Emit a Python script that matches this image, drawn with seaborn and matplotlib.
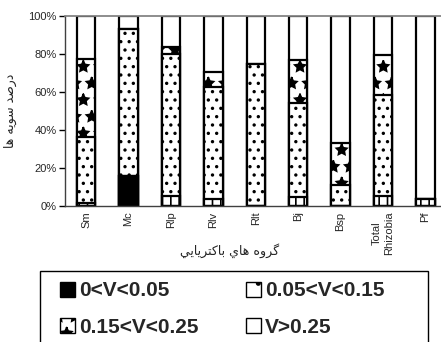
import matplotlib
matplotlib.use("Agg")
import matplotlib.pyplot as plt
import matplotlib.patches as mpatches
import seaborn as sns
import numpy as np
import pandas as pd

sns.set_theme(style="white")
plt.rcParams['font.family'] = ['Liberation Sans', 'DejaVu Sans']
plt.rcParams['hatch.linewidth'] = 1.2

categories = ['Sm', 'Mc', 'Rlp', 'Rlv', 'Rlt', 'Bj', 'Bsp', 'Total\nRhizobia', 'Pf']
v_black   = [0, 16, 0, 0, 0, 0, 0, 0, 0]            # 0<V<0.05
v_base    = [1.5, 0, 5.4, 3.8, 0, 4.9, 0, 5.3, 3.5]
v_dotted  = [34.6, 77, 74.4, 58.7, 74.7, 49.1, 11, 53.1, 0]   # 0.05<V<0.15
v_diamond = [41.1, 0, 4.1, 8.2, 0, 22.8, 22, 21.1, 0]      # 0.15<V<0.25
legend_labels = ['0<V<0.05', '0.05<V<0.15', '0.15<V<0.25', 'V>0.25']
ylabel = "\uFE8E\uFEEB \uFEEA\uFEF3\uFEEE\uFEB3 \uFEAA\uFEBB\uFEAD\uFEA9"
xlabel = ("\uFEF2\uFEF3\uFE8E\uFEF3\uFEAE\uFE98\uFEDB\uFE8E\uFE91 "
          "\uFEF1\uFE8E\uFEEB \uFEE9\uFEED\uFEAE\uFB94")

fig = plt.figure(figsize=(4.41, 3.42), dpi=100)
ax = fig.add_axes([65/441, (342-206)/342, (446.6-65)/441, 190/342])

b = np.array(v_black, float)
c1 = b + np.array(v_base)
c2 = c1 + np.array(v_dotted)
c3 = c2 + np.array(v_diamond)
c4 = np.full(len(categories), 100.0)

layers = [(c4, '', 'white'), (c3, '*', 'white'), (c2, '..', 'white'),
          (c1, '||', 'white'), (b, '', 'black')]
for vals, hatch, fc in layers:
    n0 = len(ax.patches)
    sns.barplot(x=categories, y=vals, ax=ax, color=fc, width=0.43,
                edgecolor='black', linewidth=1.6, saturation=1)
    for p in ax.patches[n0:]:
        p.set_hatch(hatch)
        p.set_facecolor(fc)

ax.set_ylim(0, 100)
ax.set_xlim(-0.5, 8.5)
ax.set_yticks([0, 20, 40, 60, 80, 100])
ax.set_yticklabels(['0%', '20%', '40%', '60%', '80%', '100%'], fontsize=8)
ax.set_xticks(range(len(categories)))
ax.set_xticklabels(categories, rotation=90, fontsize=8)
ax.set_xticks(np.arange(0.5, 8.5, 1), minor=True)
ax.tick_params(axis='x', which='major', length=0, pad=4)
ax.tick_params(axis='x', which='minor', length=4, width=1, color='black', direction='out')
ax.tick_params(axis='y', length=4, width=1, color='black', direction='out', pad=2, left=True)
for s in ['left', 'bottom']:
    ax.spines[s].set_color('#404040')
    ax.spines[s].set_linewidth(1)
ax.spines['top'].set_color('#808080')
ax.spines['right'].set_visible(False)
ax.set_xlabel('')
fig.text(230/441, (342-251)/342, xlabel, fontsize=9, family='DejaVu Sans',
         ha='center', va='center')
ax.set_ylabel(ylabel, fontsize=9, family='DejaVu Sans', labelpad=8)

# legend frame
fig.patches.append(mpatches.Rectangle((40/441, -0.1), (428-40)/441, (342-271)/342 + 0.1,
                                      transform=fig.transFigure, fill=False,
                                      edgecolor='black', linewidth=1))
handles = [mpatches.Patch(facecolor='black', edgecolor='black'),
           mpatches.Patch(facecolor='white', edgecolor='black', hatch='.'),
           mpatches.Patch(facecolor='white', edgecolor='black', hatch='*'),
           mpatches.Patch(facecolor='white', edgecolor='black')]
order = [0, 2, 1, 3]
fig.legend([handles[i] for i in order], [legend_labels[i] for i in order],
           ncol=2, loc='upper left', bbox_to_anchor=(50/441, (342-271)/342),
           frameon=False, prop={'weight': 'bold', 'size': 15},
           handlelength=0.72, handleheight=0.72, handletextpad=0.2,
           columnspacing=2.25, labelspacing=0.84, borderpad=0)

fig.savefig('out.png', dpi=100)
